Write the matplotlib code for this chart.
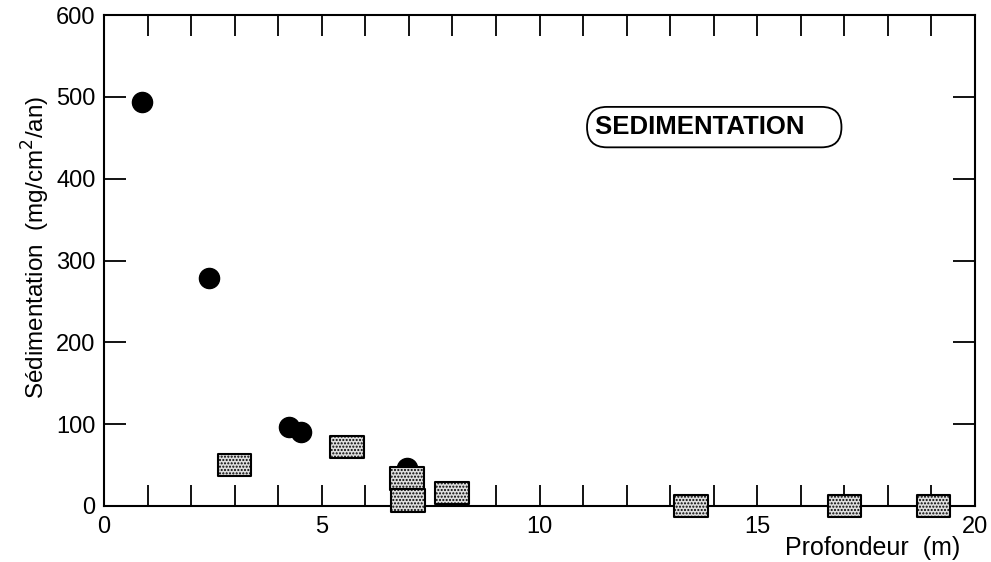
import numpy as np
import matplotlib
matplotlib.use("Agg")
import matplotlib.pyplot as plt
from matplotlib.path import Path

plt.rcParams['font.family'] = ['Liberation Sans', 'DejaVu Sans']
plt.rcParams['hatch.color'] = '#8a8a8a'

# black circles
circ_x = [0.87, 2.41, 4.25, 4.52, 6.96]
circ_y = [494, 279, 96, 90, 47]

# grey stippled rectangles
rect_x = [3.0, 5.58, 6.96, 6.98, 7.99, 13.48, 17.0, 19.04]
rect_y = [50, 72, 34, 7, 16, 0, 0, 0]

xticks_major = [0, 5, 10, 15, 20]
yticks_major = [0, 100, 200, 300, 400, 500, 600]

fig = plt.figure(figsize=(9.91, 5.62), dpi=100)
ax = fig.add_axes([104 / 991, 1 - 506 / 562, (975 - 104) / 991, (506 - 15) / 562])

ax.plot(circ_x, circ_y, 'o', color='black', markersize=14.5, zorder=3)

rect_marker = Path([(-1, -0.68), (1, -0.68), (1, 0.68), (-1, 0.68), (-1, -0.68)],
                   [Path.MOVETO, Path.LINETO, Path.LINETO, Path.LINETO, Path.CLOSEPOLY])
ax.scatter(rect_x, rect_y, marker=rect_marker, s=24 ** 2, facecolor='#dedede',
           edgecolor='black', linewidth=1.5, hatch='.....', zorder=4, clip_on=False)

ax.set_xlim(0, 20)
ax.set_ylim(0, 600)
ax.set_xticks(xticks_major)
ax.set_xticks(np.arange(0, 21, 1), minor=True)
ax.set_yticks(yticks_major)
ax.tick_params(axis='both', which='both', direction='in', top=True, right=True,
               width=1.3, labelsize=17)
ax.tick_params(axis='x', which='both', length=15)
ax.tick_params(axis='x', which='major', pad=7)
ax.tick_params(axis='y', which='major', length=16, pad=6)
for s in ax.spines.values():
    s.set_linewidth(1.5)

ax.set_ylabel('Sédimentation  (mg/cm$^2$/an)', fontsize=17.5)
ax.yaxis.set_label_coords(-0.06, 0.527)
fig.text(960 / 991, 1 - 548 / 562, 'Profondeur  (m)', fontsize=18,
         ha='right', va='center')

ax.text(11.28, 463, 'SEDIMENTATION    ', fontsize=18.5, fontweight='bold',
        ha='left', va='center',
        bbox=dict(boxstyle='round,pad=0.32,rounding_size=0.78', facecolor='white',
                  edgecolor='black', linewidth=1.3))

fig.savefig('out.png', dpi=100)
